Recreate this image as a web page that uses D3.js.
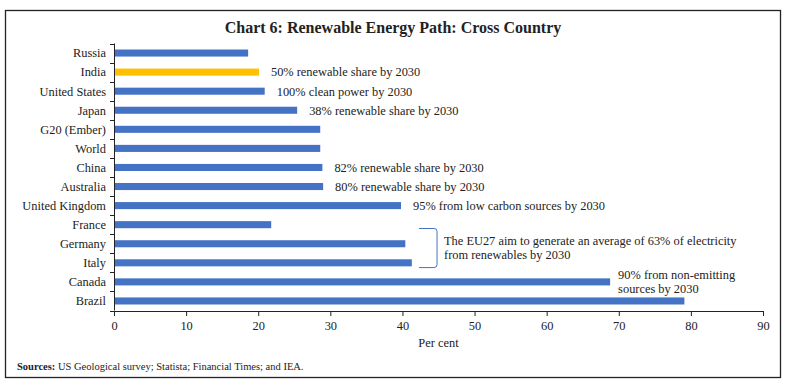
<!DOCTYPE html>
<html>
<head>
<meta charset="utf-8">
<script src="https://cdn.jsdelivr.net/npm/d3@7"></script>
<style>
  body { margin: 0; background: #fff; }
  text { font-family: "Liberation Serif", "DejaVu Serif", serif; }
</style>
</head>
<body>
<div id="chart"></div>
<script>
// chart data
var countries = ["Russia", "India", "United States", "Japan", "G20 (Ember)", "World", "China",
  "Australia", "United Kingdom", "France", "Germany", "Italy", "Canada", "Brazil"];
var shares = [18.6, 20.1, 20.9, 25.4, 28.6, 28.6, 28.9, 29.0, 39.8, 21.8, 40.4, 41.3, 68.8, 79.1];
var xTicks = [0, 10, 20, 30, 40, 50, 60, 70, 80, 90];
// notes next to bars
var notes = [
  {country: "India", lines: ["50% renewable share by 2030"]},
  {country: "United States", lines: ["100% clean power by 2030"]},
  {country: "Japan", lines: ["38% renewable share by 2030"]},
  {country: "China", lines: ["82% renewable share by 2030"]},
  {country: "Australia", lines: ["80% renewable share by 2030"]},
  {country: "United Kingdom", lines: ["95% from low carbon sources by 2030"]}
];
var euNote = ["The EU27 aim to generate an average of 63% of electricity", "from renewables by 2030"];
var canadaNote = ["90% from non-emitting", "sources by 2030"];

var W = 786, H = 387;
var margin = {top: 43.5, right: 23, bottom: 76.5, left: 114};
var fs = "12.4px";

var svg = d3.select("#chart")
    .append("svg")
    .attr("width", W)
    .attr("height", H);

// frame
svg.append("rect")
    .attr("x", 5.5).attr("y", 10.5)
    .attr("width", 775).attr("height", 367)
    .attr("fill", "none")
    .attr("stroke", "#222")
    .attr("stroke-width", 1.3);

svg.append("text")
    .attr("x", 393).attr("y", 33)
    .attr("text-anchor", "middle")
    .attr("font-size", "16px")
    .attr("font-weight", "bold")
    .attr("fill", "#222")
    .text("Chart 6: Renewable Energy Path: Cross Country");

var xScale = d3.scaleLinear().domain([0, 90]).range([margin.left, W - margin.right]);
var yScale = d3.scaleBand().domain(countries).range([margin.top, H - margin.bottom]).paddingInner(0.63).paddingOuter(0.315);
var yBand = d3.scaleBand().domain(countries).range([margin.top, H - margin.bottom]);

// bars
svg.selectAll("rect.bar")
    .data(countries)
    .enter()
    .append("rect")
    .attr("class", "bar")
    .attr("x", xScale(0))
    .attr("y", d => yScale(d))
    .attr("width", (d, i) => xScale(shares[i]) - xScale(0))
    .attr("height", yScale.bandwidth())
    .attr("fill", d => d === "India" ? "#FFC000" : "#4472C4");

// y axis: line, ticks between categories, labels
var yAxisG = svg.append("g");
yAxisG.append("line")
    .attr("x1", xScale(0) + 0.5).attr("x2", xScale(0) + 0.5)
    .attr("y1", margin.top).attr("y2", H - margin.bottom)
    .attr("stroke", "#222");
var bounds = countries.map(d => yBand(d)).concat([H - margin.bottom]);
yAxisG.selectAll("line.tk")
    .data(bounds)
    .enter()
    .append("line")
    .attr("class", "tk")
    .attr("x1", xScale(0) - 4).attr("x2", xScale(0))
    .attr("y1", d => Math.round(d) + 0.5).attr("y2", d => Math.round(d) + 0.5)
    .attr("stroke", "#222");
yAxisG.selectAll("text")
    .data(countries)
    .enter()
    .append("text")
    .attr("x", xScale(0) - 8)
    .attr("y", d => yBand(d) + yBand.bandwidth() / 2)
    .attr("dy", "0.35em")
    .attr("text-anchor", "end")
    .attr("font-size", fs)
    .attr("fill", "#222")
    .text(d => d);

// x axis
var xAxis = d3.axisBottom(xScale).tickValues(xTicks).tickSize(5).tickSizeOuter(0).tickFormat(d3.format("d"));
var xg = svg.append("g")
    .attr("transform", "translate(0," + (H - margin.bottom + 0.5) + ")")
    .call(xAxis);
xg.select(".domain").attr("stroke", "#222");
xg.selectAll(".tick line").attr("stroke", "#222");
xg.selectAll(".tick text").attr("font-size", fs).attr("fill", "#222").attr("dy", "0.9em")
    .style("font-family", "Liberation Serif, serif");

svg.append("text")
    .attr("x", (xScale(0) + xScale(90)) / 2)
    .attr("y", 347)
    .attr("text-anchor", "middle")
    .attr("font-size", fs)
    .attr("fill", "#222")
    .text("Per cent");

// notes
notes.forEach(n => {
  var i = countries.indexOf(n.country);
  svg.append("text")
      .attr("x", xScale(shares[i]) + 12)
      .attr("y", yBand(n.country) + yBand.bandwidth() / 2)
      .attr("dy", "0.35em")
      .attr("font-size", fs)
      .attr("fill", "#222")
      .text(n.lines[0]);
});

// EU bracket
var bx = xScale(42.3), bx2 = xScale(44.8);
var byTop = yBand("France") + yBand.bandwidth() * 0.7;
var byBot = yBand("Italy") + yBand.bandwidth() * 0.75;
svg.append("path")
    .attr("d", "M" + bx + "," + byTop + " L" + (bx2 - 3) + "," + byTop +
      " Q" + bx2 + "," + byTop + " " + bx2 + "," + (byTop + 3) +
      " L" + bx2 + "," + (byBot - 3) +
      " Q" + bx2 + "," + byBot + " " + (bx2 - 3) + "," + byBot +
      " L" + bx + "," + byBot)
    .attr("fill", "none")
    .attr("stroke", "#4472C4")
    .attr("stroke-width", 1);

var euY = (byTop + byBot) / 2;
euNote.forEach((t, k) => {
  svg.append("text")
      .attr("x", bx2 + 7)
      .attr("y", euY - 7 + k * 14)
      .attr("dy", "0.35em")
      .attr("font-size", fs)
      .attr("fill", "#222")
      .text(t);
});

// Canada note
var ci = countries.indexOf("Canada");
canadaNote.forEach((t, k) => {
  svg.append("text")
      .attr("x", xScale(shares[ci]) + 8)
      .attr("y", yBand("Canada") + yBand.bandwidth() / 2 - 7 + k * 14)
      .attr("dy", "0.35em")
      .attr("font-size", fs)
      .attr("fill", "#222")
      .text(t);
});

// sources
var src = svg.append("text")
    .attr("x", 17).attr("y", 370)
    .attr("font-size", "10.5px")
    .attr("fill", "#222");
src.append("tspan").attr("font-weight", "bold").text("Sources:");
src.append("tspan").text(" US Geological survey; Statista; Financial Times; and IEA.");
</script>
</body>
</html>
